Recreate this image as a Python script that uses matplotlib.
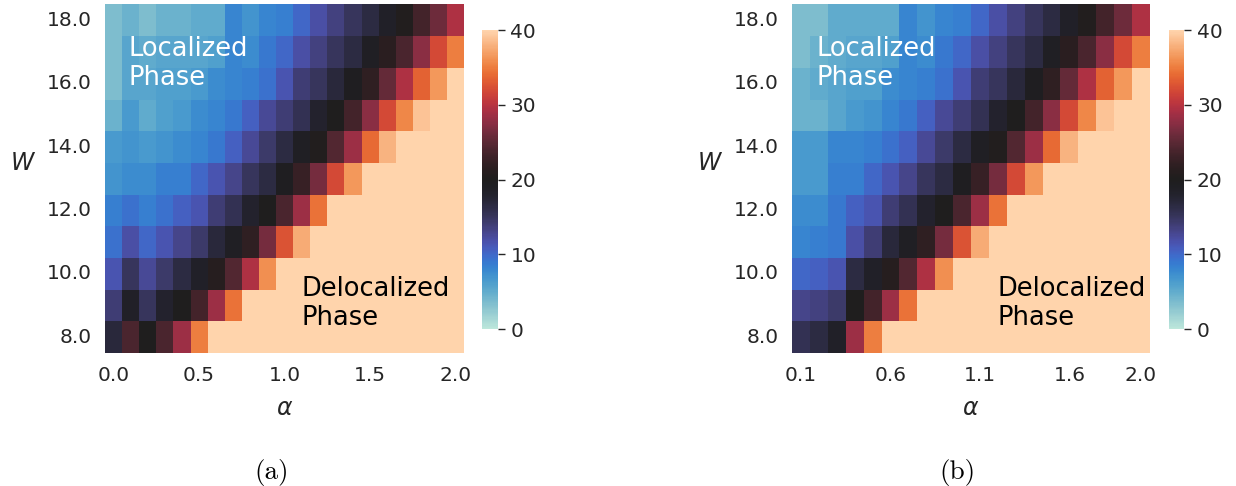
import numpy as np
import pandas as pd
import matplotlib
matplotlib.use("Agg")
import matplotlib.pyplot as plt
import seaborn as sns

sns.set_theme(style="white")

# disorder strength W (top row first) and the two alpha grids
W_vals = [18.0, 17.0, 16.0, 15.0, 14.0, 13.0, 12.0, 11.0, 10.0, 9.0, 8.0]
alpha_a = [0.0, 0.1, 0.2, 0.3, 0.4, 0.5, 0.6, 0.7, 0.8, 0.9, 1.0,
           1.1, 1.2, 1.3, 1.4, 1.5, 1.6, 1.7, 1.8, 1.9, 2.0]
alpha_b = [0.1, 0.2, 0.3, 0.4, 0.5, 0.6, 0.7, 0.8, 0.9, 1.0,
           1.1, 1.2, 1.3, 1.4, 1.5, 1.6, 1.7, 1.8, 1.9, 2.0]

# panel (a), one list per W
a_W18 = [3.5, 4.5, 3.5, 4.5, 4.5, 5, 5, 8, 7, 8, 8.5, 10, 12, 13.5, 15, 16.5, 18.5, 20.5, 23.5, 26, 29.5]
a_W17 = [3.5, 5.5, 5, 5.5, 5.5, 5.5, 6, 8, 7.5, 9, 10, 12, 13.5, 15, 16.5, 19, 21.5, 24, 27.5, 32, 35]
a_W16 = [3.5, 5.5, 5.5, 6, 6, 6.5, 7.5, 8, 8.5, 9.5, 11.5, 14, 15, 17, 19.5, 22, 25.5, 29.5, 33.5, 36.5, 40]
a_W15 = [4.5, 6.5, 5, 6, 6.5, 7.5, 8, 9, 10.5, 12.5, 14, 15.5, 18, 20, 23.5, 27.5, 32, 35.5, 39, 40, 40]
a_W14 = [6.5, 7, 6.5, 7, 7.5, 8, 9, 10.5, 12.5, 14.5, 16.5, 19, 20.5, 24.5, 28.5, 34, 38, 40, 40, 40, 40]
a_W13 = [7, 7.5, 7.5, 8.5, 8.5, 10, 11.5, 13, 15, 16.5, 19.5, 22.5, 26.5, 32, 36.5, 40, 40, 40, 40, 40, 40]
a_W12 = [8.5, 9.5, 8.5, 9.5, 10.5, 11.5, 14, 15.5, 18, 20, 24, 28.5, 34.5, 40, 40, 40, 40, 40, 40, 40, 40]
a_W11 = [9.5, 12, 10, 11.5, 13, 14.5, 17, 19, 22, 26.5, 32.5, 37.5, 40, 40, 40, 40, 40, 40, 40, 40, 40]
a_W10 = [11.5, 15, 12.5, 14.5, 16.5, 18.5, 21, 24.5, 29.5, 36, 40, 40, 40, 40, 40, 40, 40, 40, 40, 40, 40]
a_W9 = [14, 18.5, 15, 18, 20, 23.5, 28.5, 34.5, 40, 40, 40, 40, 40, 40, 40, 40, 40, 40, 40, 40, 40]
a_W8 = [17, 24, 20, 24, 28.5, 35, 40, 40, 40, 40, 40, 40, 40, 40, 40, 40, 40, 40, 40, 40, 40]

# panel (b)
b_W18 = [3.5, 3.5, 5, 5, 5, 5, 8, 7, 8, 8.5, 10, 12, 13.5, 15, 16.5, 18.5, 20.5, 23.5, 26, 29.5]
b_W17 = [3.5, 4.5, 5, 5.5, 5.5, 6, 8, 7.5, 9, 10, 12, 13.5, 15, 16.5, 19, 21.5, 24, 27.5, 32, 35]
b_W16 = [4.5, 5, 5.5, 6, 6, 7.5, 8, 8.5, 9.5, 11.5, 14, 15, 17, 19.5, 22, 25.5, 29.5, 33.5, 36.5, 40]
b_W15 = [4.5, 4.5, 5.5, 6.5, 7, 8, 9, 10.5, 12.5, 14, 15.5, 18, 20, 23.5, 27.5, 32, 35.5, 39, 40, 40]
b_W14 = [6.5, 6.5, 8, 8, 8.5, 9.5, 10.5, 12.5, 14.5, 16.5, 19, 20.5, 24.5, 28.5, 34, 38, 40, 40, 40, 40]
b_W13 = [6.5, 6.5, 8.5, 8.5, 10, 11.5, 13, 15, 16.5, 19.5, 22.5, 26.5, 32, 36.5, 40, 40, 40, 40, 40, 40]
b_W12 = [7.5, 7.5, 9, 10.5, 11.5, 14, 15.5, 18, 20, 24, 28.5, 34.5, 40, 40, 40, 40, 40, 40, 40, 40]
b_W11 = [8, 8.5, 9, 12, 14, 17, 19, 22, 26.5, 32.5, 37.5, 40, 40, 40, 40, 40, 40, 40, 40, 40]
b_W10 = [10, 10.5, 11.5, 16.5, 18.5, 21, 24.5, 29.5, 36, 40, 40, 40, 40, 40, 40, 40, 40, 40, 40, 40]
b_W9 = [13, 13.5, 14.5, 20, 23.5, 28.5, 34.5, 40, 40, 40, 40, 40, 40, 40, 40, 40, 40, 40, 40, 40]
b_W8 = [15.5, 16.5, 18.5, 28.5, 35, 40, 40, 40, 40, 40, 40, 40, 40, 40, 40, 40, 40, 40, 40, 40]

rows_a = [a_W18, a_W17, a_W16, a_W15, a_W14, a_W13, a_W12, a_W11, a_W10, a_W9, a_W8]
rows_b = [b_W18, b_W17, b_W16, b_W15, b_W14, b_W13, b_W12, b_W11, b_W10, b_W9, b_W8]
df_a = pd.DataFrame(rows_a, index=W_vals, columns=alpha_a)
df_b = pd.DataFrame(rows_b, index=W_vals, columns=alpha_b)

xt_a = [0, 5, 10, 15, 20]
xt_b = [0, 5, 10, 15, 19]
yt = [0, 2, 4, 6, 8, 10]

fig = plt.figure(figsize=(12.36, 4.86), dpi=100)
ax_a = fig.add_axes([0.0850, 0.2733, 0.2905, 0.7175])
cax_a = fig.add_axes([0.3900, 0.3230, 0.0129, 0.6150])
ax_b = fig.add_axes([0.6408, 0.2733, 0.2896, 0.7175])
cax_b = fig.add_axes([0.9458, 0.3230, 0.0125, 0.6150])


def draw(ax, cax, df, xt, caption, cap_x):
    sns.heatmap(df, ax=ax, cbar_ax=cax, cmap="icefire", vmin=0, vmax=40)
    ax.set_xticks(np.array(xt) + 0.5)
    ax.set_xticklabels(["%.1f" % df.columns[i] for i in xt], rotation=0)
    ax.set_yticks(np.array(yt) + 0.5)
    ax.set_yticklabels(["%.1f" % df.index[i] for i in yt], rotation=0)
    ax.tick_params(labelsize=14.5, labelcolor="#262626")
    ax.set_xlabel(r"$\alpha$", fontsize=17, color="#262626", va="center")
    ax.xaxis.set_label_coords(0.5, -0.158)
    ax.set_ylabel(r"$W$", fontsize=17, color="#262626", rotation=0, ha="center", va="center")
    ax.yaxis.set_label_coords(-0.228, 0.545)

    cax.tick_params(labelsize=14.5, labelcolor="#262626", length=5, width=1,
                    color="#262626", pad=4)
    cax.set_yticks([0, 10, 20, 30, 40])

    ax.text(1.35, 0.98, "Localized\nPhase", color="white", fontsize=18.5,
            ha="left", va="top", linespacing=1.17)
    ax.text(11.5, 8.55, "Delocalized\nPhase", color="black", fontsize=18.5,
            ha="left", va="top", linespacing=1.17)
    fig.text(cap_x, 0.0144, caption, family="cmr10", fontsize=19.5,
             ha="center", va="baseline", color="black")


draw(ax_a, cax_a, df_a, xt_a, "(a)", 0.220)
draw(ax_b, cax_b, df_b, xt_b, "(b)", 0.775)

fig.savefig("out.png", dpi=100)
